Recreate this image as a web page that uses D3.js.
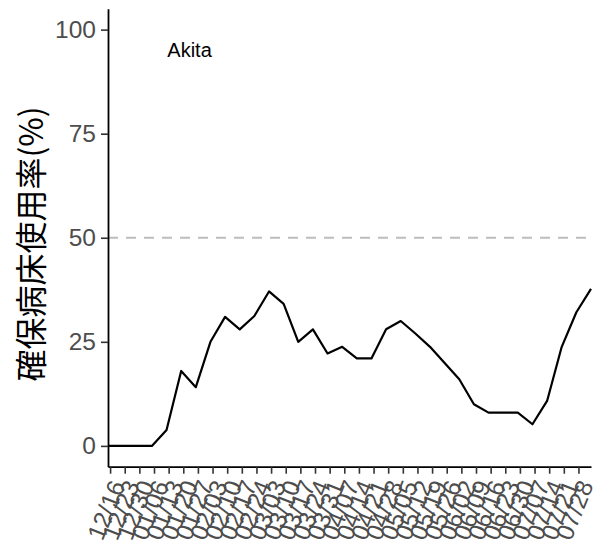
<!DOCTYPE html>
<html>
<head>
<meta charset="utf-8">
<script src="https://cdn.jsdelivr.net/npm/d3@7"></script>
<style>
  html, body { margin: 0; padding: 0; background: #fff; }
  svg { display: block; }
</style>
</head>
<body>
<svg id="chart" width="596" height="545"></svg>
<script>
// ---- data ----
const dates = ["2020-12-15","2020-12-22","2020-12-29","2021-01-05","2021-01-12","2021-01-19","2021-01-26",
  "2021-02-02","2021-02-09","2021-02-16","2021-02-23","2021-03-02","2021-03-09","2021-03-16","2021-03-23",
  "2021-03-30","2021-04-06","2021-04-13","2021-04-20","2021-04-27","2021-05-04","2021-05-11","2021-05-18",
  "2021-05-25","2021-06-01","2021-06-08","2021-06-15","2021-06-22","2021-06-29","2021-07-06","2021-07-13",
  "2021-07-20","2021-07-27","2021-08-03"];
const values = [0,0,0,0,3.8,18,14.1,25,31,28,31.2,37.1,34.1,25,28,22.2,23.8,21,21,28,30,27,23.8,19.9,16,10,8,8,8,5.2,10.8,23.8,32.1,37.7];
const tickDates = ["2020-12-16","2020-12-23","2020-12-30","2021-01-06","2021-01-13","2021-01-20","2021-01-27",
  "2021-02-03","2021-02-10","2021-02-17","2021-02-24","2021-03-03","2021-03-10","2021-03-17","2021-03-24",
  "2021-03-31","2021-04-07","2021-04-14","2021-04-21","2021-04-28","2021-05-05","2021-05-12","2021-05-19",
  "2021-05-26","2021-06-02","2021-06-09","2021-06-16","2021-06-23","2021-06-30","2021-07-07","2021-07-14",
  "2021-07-21","2021-07-28"];
const yTicks = [0, 25, 50, 75, 100];
const yDomain = [-5, 105];
const refLine = 50;
const yTitle = "確保病床使用率(%)";
const panelLabel = "Akita";
const labelPos = { date: "2021-01-23", value: 95 };

// ---- drawing ----
(function () {
const parse = d3.timeParse("%Y-%m-%d");
const fmt = d3.timeFormat("%m/%d");
const data = dates.map((d, i) => ({ date: parse(d), value: values[i] }));

const pLeft = 108, pRight = 591, pTop = 8.8, pBottom = 466.7;
const svg = d3.select("#chart");

const x = d3.scaleTime().domain([parse(dates[0]), parse(dates[dates.length - 1])]).range([pLeft, pRight]);
const y = d3.scaleLinear().domain(yDomain).range([pBottom, pTop]);

// dashed reference line
svg.append("line")
  .attr("x1", pLeft).attr("x2", pRight)
  .attr("y1", y(refLine)).attr("y2", y(refLine))
  .attr("stroke", "#bdbdbd").attr("stroke-width", 2)
  .attr("stroke-dasharray", "10,8");

// data line
svg.append("path")
  .datum(data)
  .attr("fill", "none")
  .attr("stroke", "#000")
  .attr("stroke-width", 2.2)
  .attr("stroke-linejoin", "round")
  .attr("d", d3.line().x(d => x(d.date)).y(d => y(d.value)));

// y axis
const yAxis = svg.append("g")
  .attr("transform", `translate(${pLeft},0)`)
  .call(d3.axisLeft(y).tickValues(yTicks).tickSize(7).tickSizeOuter(0).tickPadding(5));
yAxis.select(".domain").attr("stroke", "#000").attr("stroke-width", 1.8);
yAxis.selectAll(".tick line").attr("stroke", "#333").attr("stroke-width", 1.6);
yAxis.selectAll(".tick text")
  .attr("fill", "#4d4d4d")
  .style("font-family", "'Liberation Sans', Arial, sans-serif")
  .style("font-size", "24.5px");

// x axis
const xAxis = svg.append("g")
  .attr("transform", `translate(0,${pBottom})`)
  .call(d3.axisBottom(x).tickValues(tickDates.map(parse)).tickFormat(fmt).tickSize(7).tickSizeOuter(0));
xAxis.select(".domain").attr("stroke", "#000").attr("stroke-width", 1.8);
xAxis.selectAll(".tick line").attr("stroke", "#333").attr("stroke-width", 1.6);
xAxis.selectAll(".tick text")
  .attr("fill", "#4d4d4d")
  .style("font-family", "'Liberation Sans', Arial, sans-serif")
  .style("font-size", "24.5px")
  .attr("text-anchor", "end")
  .attr("x", 0).attr("y", 0).attr("dy", "0.35em")
  .attr("transform", "translate(7,15) rotate(-68)");

// y title
svg.append("text")
  .attr("transform", `translate(43,244) rotate(-90)`)
  .attr("text-anchor", "middle")
  .attr("fill", "#000")
  .style("font-family", "'Noto Sans CJK JP', 'Noto Sans CJK SC', sans-serif")
  .style("font-size", "32px")
  .text(yTitle);

// panel label
svg.append("text")
  .attr("x", x(parse(labelPos.date)))
  .attr("y", y(labelPos.value))
  .attr("dy", "0.35em")
  .attr("text-anchor", "middle")
  .attr("fill", "#000")
  .style("font-family", "'Liberation Sans', Arial, sans-serif")
  .style("font-size", "20px")
  .text(panelLabel);
})();
</script>
</body>
</html>
